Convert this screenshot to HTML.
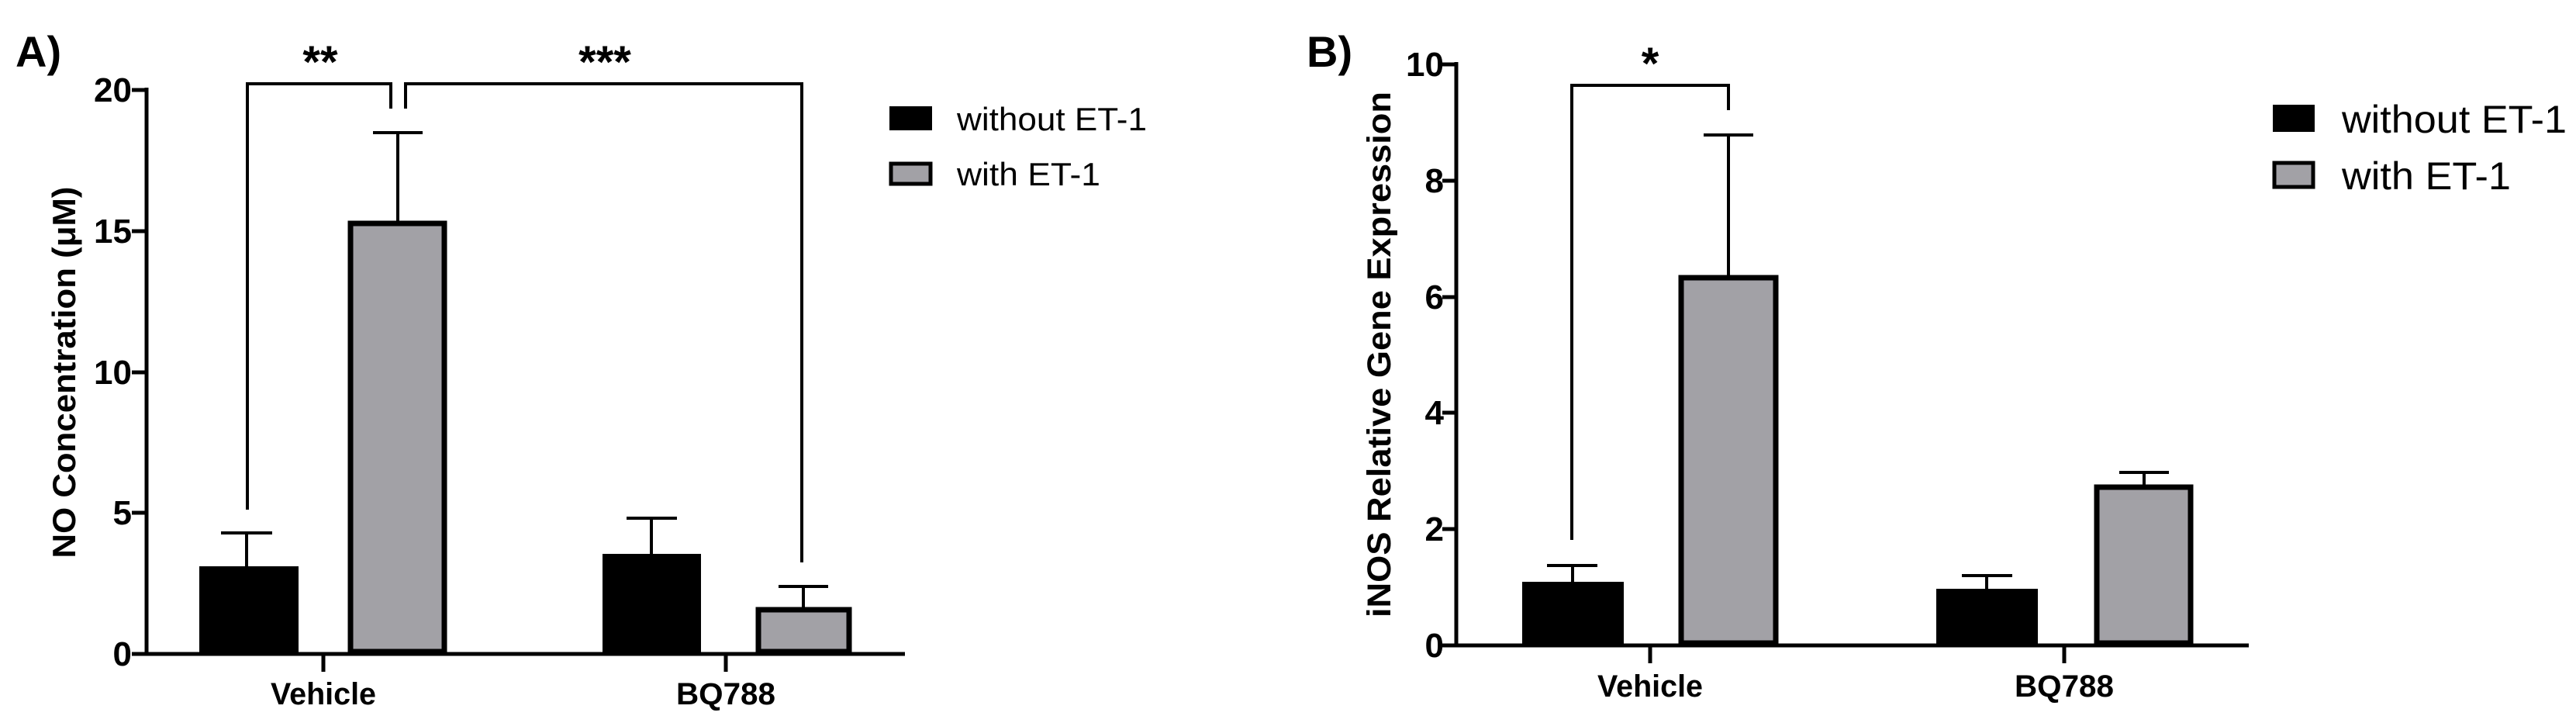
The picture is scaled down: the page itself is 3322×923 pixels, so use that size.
<!DOCTYPE html>
<html><head><meta charset="utf-8"><style>
html,body{margin:0;padding:0;background:#fff;}
svg{display:block;}
text{font-family:"Liberation Sans",Arial,sans-serif;}
</style></head><body>
<svg width="3322" height="923" viewBox="0 0 3322 923" xmlns="http://www.w3.org/2000/svg">
<!-- Panel A -->
<text x="20" y="86" font-size="56" font-weight="bold">A)</text>
<text transform="translate(97,480) rotate(-90)" text-anchor="middle" font-size="42" font-weight="bold" textLength="479" lengthAdjust="spacingAndGlyphs">NO Concentration (μM)</text>
<g font-size="44" font-weight="bold" text-anchor="end">
<text x="170" y="131">20</text><text x="170" y="313">15</text><text x="170" y="495">10</text><text x="170" y="676">5</text><text x="170" y="858">0</text>
</g>
<g stroke="#000" stroke-width="5" fill="none">
<line x1="189" y1="113" x2="189" y2="845"/>
<line x1="170" y1="116" x2="189" y2="116"/><line x1="170" y1="298" x2="189" y2="298"/><line x1="170" y1="480" x2="189" y2="480"/><line x1="170" y1="661" x2="189" y2="661"/><line x1="170" y1="843" x2="189" y2="843"/>
<line x1="187" y1="843" x2="1167" y2="843"/>
<line x1="417" y1="843" x2="417" y2="866"/><line x1="936" y1="843" x2="936" y2="866"/>
</g>
<g font-size="40" font-weight="bold" text-anchor="middle">
<text x="417" y="908" textLength="136" lengthAdjust="spacingAndGlyphs">Vehicle</text>
<text x="936" y="908" textLength="128" lengthAdjust="spacingAndGlyphs">BQ788</text>
</g>
<g stroke="#000" stroke-width="4">
<line x1="318" y1="730" x2="318" y2="687"/><line x1="285" y1="687" x2="351" y2="687"/>
<line x1="513" y1="287" x2="513" y2="171"/><line x1="481" y1="171" x2="545" y2="171"/>
<line x1="840" y1="714" x2="840" y2="668"/><line x1="808" y1="668" x2="873" y2="668"/>
<line x1="1036" y1="783" x2="1036" y2="756"/><line x1="1004" y1="756" x2="1068" y2="756"/>
</g>
<rect x="257" y="730" width="128" height="113" fill="#000"/>
<rect x="777" y="714" width="127" height="129" fill="#000"/>
<rect x="452" y="288" width="121" height="552" fill="#a2a1a6" stroke="#000" stroke-width="7"/>
<rect x="978" y="786" width="117" height="54" fill="#a2a1a6" stroke="#000" stroke-width="7"/>
<g stroke="#000" stroke-width="4" fill="none">
<polyline points="319,657 319,108 504,108 504,140"/>
<polyline points="523,140 523,108 1034,108 1034,725"/>
</g>
<text x="413" y="100" font-size="58" font-weight="bold" text-anchor="middle">**</text>
<text x="780" y="100" font-size="58" font-weight="bold" text-anchor="middle">***</text>
<rect x="1147" y="137" width="55" height="31" fill="#000"/>
<rect x="1149" y="211" width="51" height="26" fill="#a2a1a6" stroke="#000" stroke-width="5"/>
<text x="1234" y="168" font-size="42" textLength="245" lengthAdjust="spacingAndGlyphs">without ET-1</text>
<text x="1234" y="239" font-size="42" textLength="185" lengthAdjust="spacingAndGlyphs">with ET-1</text>

<!-- Panel B -->
<text x="1685" y="86" font-size="56" font-weight="bold">B)</text>
<text transform="translate(1793,457) rotate(-90)" text-anchor="middle" font-size="43" font-weight="bold" textLength="678" lengthAdjust="spacingAndGlyphs">iNOS Relative Gene Expression</text>
<g font-size="44" font-weight="bold" text-anchor="end">
<text x="1862" y="98">10</text><text x="1862" y="248">8</text><text x="1862" y="398">6</text><text x="1862" y="547">4</text><text x="1862" y="697">2</text><text x="1862" y="847">0</text>
</g>
<g stroke="#000" stroke-width="5" fill="none">
<line x1="1878" y1="80" x2="1878" y2="834"/>
<line x1="1860" y1="83" x2="1878" y2="83"/><line x1="1860" y1="233" x2="1878" y2="233"/><line x1="1860" y1="383" x2="1878" y2="383"/><line x1="1860" y1="532" x2="1878" y2="532"/><line x1="1860" y1="682" x2="1878" y2="682"/><line x1="1860" y1="832" x2="1878" y2="832"/>
<line x1="1876" y1="832" x2="2900" y2="832"/>
<line x1="2128" y1="832" x2="2128" y2="855"/><line x1="2662" y1="832" x2="2662" y2="855"/>
</g>
<g font-size="40" font-weight="bold" text-anchor="middle">
<text x="2128" y="898" textLength="136" lengthAdjust="spacingAndGlyphs">Vehicle</text>
<text x="2662" y="898" textLength="128" lengthAdjust="spacingAndGlyphs">BQ788</text>
</g>
<g stroke="#000" stroke-width="4">
<line x1="2028" y1="750" x2="2028" y2="729"/><line x1="1995" y1="729" x2="2060" y2="729"/>
<line x1="2229" y1="356" x2="2229" y2="174"/><line x1="2197" y1="174" x2="2261" y2="174"/>
<line x1="2562" y1="759" x2="2562" y2="742"/><line x1="2530" y1="742" x2="2595" y2="742"/>
<line x1="2765" y1="626" x2="2765" y2="609"/><line x1="2733" y1="609" x2="2797" y2="609"/>
</g>
<rect x="1963" y="750" width="131" height="82" fill="#000"/>
<rect x="2497" y="759" width="131" height="73" fill="#000"/>
<rect x="2168" y="358" width="122" height="471" fill="#a2a1a6" stroke="#000" stroke-width="7"/>
<rect x="2704" y="628" width="121" height="201" fill="#a2a1a6" stroke="#000" stroke-width="7"/>
<g stroke="#000" stroke-width="4" fill="none">
<polyline points="2027,696 2027,110 2229,110 2229,142"/>
</g>
<text x="2128" y="102" font-size="58" font-weight="bold" text-anchor="middle">*</text>
<rect x="2931" y="135" width="54" height="35" fill="#000"/>
<rect x="2933" y="210" width="50" height="31" fill="#a2a1a6" stroke="#000" stroke-width="5"/>
<text x="3020" y="171" font-size="50" textLength="290" lengthAdjust="spacingAndGlyphs">without ET-1</text>
<text x="3020" y="244" font-size="50" textLength="218" lengthAdjust="spacingAndGlyphs">with ET-1</text>
</svg>
</body></html>
